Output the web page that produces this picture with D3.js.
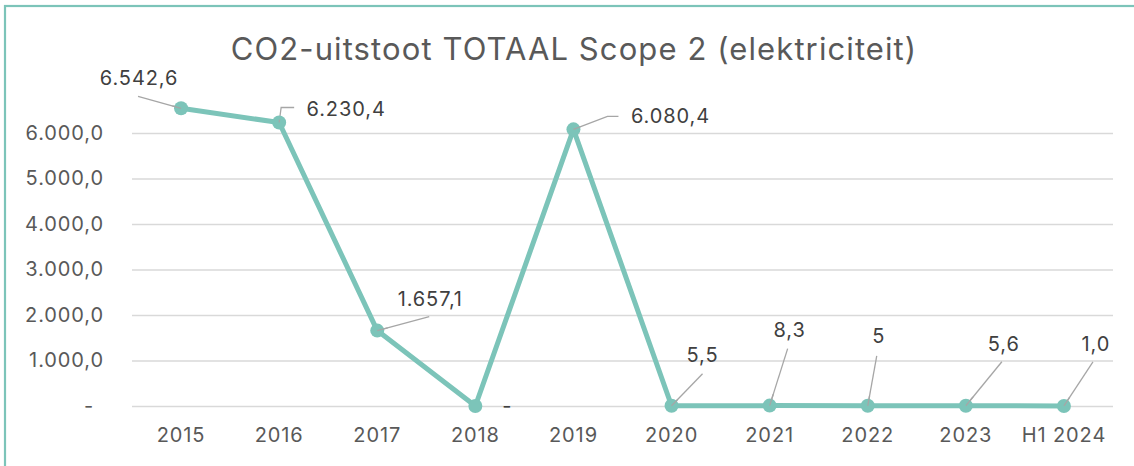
<!DOCTYPE html>
<html>
<head>
<meta charset="utf-8">
<script src="https://cdn.jsdelivr.net/npm/d3@7"></script>
<style>
  html, body { margin: 0; padding: 0; background: #fff; }
  svg { display: block; font-family: Inter, "Noto Sans", sans-serif; }
</style>
</head>
<body>
<svg id="chart" width="1134" height="466"></svg>
<script>
// ---- data ----
const categories = ["2015", "2016", "2017", "2018", "2019", "2020", "2021", "2022", "2023", "H1 2024"];
const values = [6542.6, 6230.4, 1657.1, 0, 6080.4, 5.5, 8.3, 5, 5.6, 1.0];
const valueLabels = ["6.542,6", "6.230,4", "1.657,1", "-", "6.080,4", "5,5", "8,3", "5", "5,6", "1,0"];
const yTicks = [0, 1000, 2000, 3000, 4000, 5000, 6000];
const yTickLabels = ["-", "1.000,0", "2.000,0", "3.000,0", "4.000,0", "5.000,0", "6.000,0"];
const title = "CO2-uitstoot TOTAAL Scope 2 (elektriciteit)";

// ---- layout (manual label placement, relative to each point) ----
const labelOffsets = [[-42, -23], [67, -7], [53, -25], [32, 7], [97, -6], [31, -44], [20, -69], [11, -63], [38, -55], [32, -55]];
const leaderPaths = [
  [[-43, -12]],
  [[2, -15], [15, -15]],
  [[52, -14]],
  null,
  [[34, -13], [45, -13]],
  [[31, -32]],
  [[18, -57]],
  [[9, -50]],
  [[36, -44]],
  [[29, -44]]
];

const svg = d3.select("#chart");
const teal = "#7CC4B9";
const margin = { left: 132, right: 1113, top: 133, bottom: 406 };
const fs = 20, ls = 0.9;

// border
svg.append("rect")
  .attr("x", 5).attr("y", 6)
  .attr("width", 1150).attr("height", 480)
  .attr("fill", "none").attr("stroke", teal).attr("stroke-width", 2.2);

// title
svg.append("text")
  .attr("x", 574).attr("y", 60)
  .attr("text-anchor", "middle")
  .attr("font-size", 31)
  .attr("letter-spacing", 1.1)
  .attr("fill", "#595959")
  .text(title);

const x = d3.scaleBand().domain(categories).range([margin.left, margin.right]).padding(0);
const y = d3.scaleLinear().domain([0, 6000]).range([margin.bottom, margin.top]);
const cx = c => x(c) + x.bandwidth() / 2;

// gridlines
const yAxis = d3.axisLeft(y).tickValues(yTicks)
  .tickSize(-(margin.right - margin.left))
  .tickPadding(28)
  .tickFormat((d, i) => yTickLabels[i]);
const gy = svg.append("g").attr("transform", `translate(${margin.left},0)`).call(yAxis);
gy.select(".domain").remove();
gy.selectAll(".tick line").attr("stroke", "#d9d9d9").attr("stroke-width", 1.5);
gy.selectAll(".tick text")
  .attr("font-size", fs).attr("fill", "#595959")
  .attr("letter-spacing", ls)
  .attr("font-family", "Inter, sans-serif")
  .attr("dx", (d) => d === 0 ? -10 : 0);

// x axis labels
const xAxis = d3.axisBottom(x).tickSize(0).tickPadding(22);
const gx = svg.append("g").attr("transform", `translate(0,${margin.bottom})`).call(xAxis);
gx.select(".domain").remove();
gx.selectAll(".tick text").attr("font-size", fs).attr("fill", "#595959")
  .attr("letter-spacing", ls)
  .attr("font-family", "Inter, sans-serif");

// leader lines
const pts = categories.map((c, i) => [cx(c), y(values[i])]);
leaderPaths.forEach((lp, i) => {
  if (!lp) return;
  const [px, py] = pts[i];
  const line = [[px, py]].concat(lp.map(([dx, dy]) => [px + dx, py + dy]));
  svg.append("path")
    .attr("d", d3.line()(line))
    .attr("fill", "none").attr("stroke", "#a6a6a6").attr("stroke-width", 1.3);
});

// line
svg.append("path")
  .datum(values)
  .attr("d", d3.line().x((d, i) => cx(categories[i])).y(d => y(d)))
  .attr("fill", "none").attr("stroke", teal).attr("stroke-width", 5)
  .attr("stroke-linejoin", "round");

// markers
svg.selectAll("circle.pt").data(values).join("circle")
  .attr("class", "pt")
  .attr("cx", (d, i) => cx(categories[i]))
  .attr("cy", d => y(d))
  .attr("r", 7)
  .attr("fill", teal);

// leader line stubs drawn over markers
leaderPaths.forEach((lp, i) => {
  if (!lp) return;
  const [px, py] = pts[i];
  const first = lp[0];
  svg.append("line")
    .attr("x1", px).attr("y1", py)
    .attr("x2", px + first[0] * 0.2).attr("y2", py + first[1] * 0.2)
    .attr("stroke", "#a6a6a6").attr("stroke-width", 1.3);
});

// data labels
svg.selectAll("text.lbl").data(values).join("text")
  .attr("class", "lbl")
  .attr("x", (d, i) => pts[i][0] + labelOffsets[i][0])
  .attr("y", (d, i) => pts[i][1] + labelOffsets[i][1])
  .attr("text-anchor", "middle")
  .attr("font-size", fs)
  .attr("letter-spacing", ls)
  .attr("fill", "#404040")
  .text((d, i) => valueLabels[i]);
</script>
</body>
</html>
